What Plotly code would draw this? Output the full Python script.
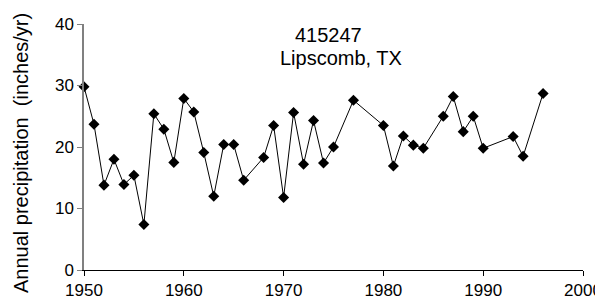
import plotly.graph_objects as go

years = [1950, 1951, 1952, 1953, 1954, 1955, 1956, 1957, 1958, 1959,
         1960, 1961, 1962, 1963, 1964, 1965, 1966, 1968, 1969, 1970,
         1971, 1972, 1973, 1974, 1975, 1977, 1980, 1981, 1982, 1983,
         1984, 1986, 1987, 1988, 1989, 1990, 1993, 1994, 1996]
precip = [29.8, 23.7, 13.8, 18.0, 13.9, 15.4, 7.4, 25.4, 22.9, 17.5,
          27.9, 25.7, 19.1, 12.0, 20.4, 20.4, 14.6, 18.3, 23.5, 11.8,
          25.6, 17.2, 24.3, 17.4, 20.0, 27.6, 23.5, 16.9, 21.8, 20.3,
          19.8, 25.0, 28.2, 22.5, 25.0, 19.8, 21.7, 18.5, 28.7]
x_ticks = [1950, 1960, 1970, 1980, 1990, 2000]
y_ticks = [0, 10, 20, 30, 40]
station = "415247"
location = "Lipscomb, TX"
y_title = "Annual precipitation  (inches/yr)"

font_family = "Liberation Sans, Arial, sans-serif"

fig = go.Figure()
fig.add_trace(go.Scatter(
    x=years, y=precip, mode="lines+markers",
    line=dict(color="black", width=1),
    marker=dict(symbol="diamond", size=8.5, color="black"),
    cliponaxis=False, showlegend=False,
))

fig.update_layout(
    width=595, height=296,
    margin=dict(l=75.5, r=20.3, t=16, b=34, pad=0),
    paper_bgcolor="white", plot_bgcolor="white",
    font=dict(family=font_family, color="black", size=17),
    xaxis=dict(range=[1950, 2000], tickvals=x_ticks, ticktext=[str(v) for v in x_ticks],
               showgrid=False, zeroline=False, showline=True, linecolor="black", linewidth=1,
               ticks="outside", ticklen=5, tickcolor="black", tickwidth=1,
               tickfont=dict(size=17), automargin=False),
    yaxis=dict(range=[0, 40], tickvals=y_ticks, showgrid=False, zeroline=False,
               showline=True, linecolor="#808080", linewidth=1.5,
               ticks="outside", ticklen=5, tickcolor="#808080", tickwidth=1,
               tickfont=dict(size=17), automargin=False),
    annotations=[
        dict(text=station, x=1974.5, y=40, xref="x", yref="y", xanchor="center",
             yanchor="top", yshift=2, showarrow=False, font=dict(size=20)),
        dict(text=location, x=1975.8, y=40, xref="x", yref="y", xanchor="center",
             yanchor="top", yshift=-21, showarrow=False, font=dict(size=20)),
        dict(text=y_title, x=0, y=0.4736, xref="paper", yref="paper",
             xanchor="center", yanchor="middle", xshift=-62.5, textangle=-90,
             showarrow=False, font=dict(size=20)),
    ],
)

fig.write_html("out.html")
